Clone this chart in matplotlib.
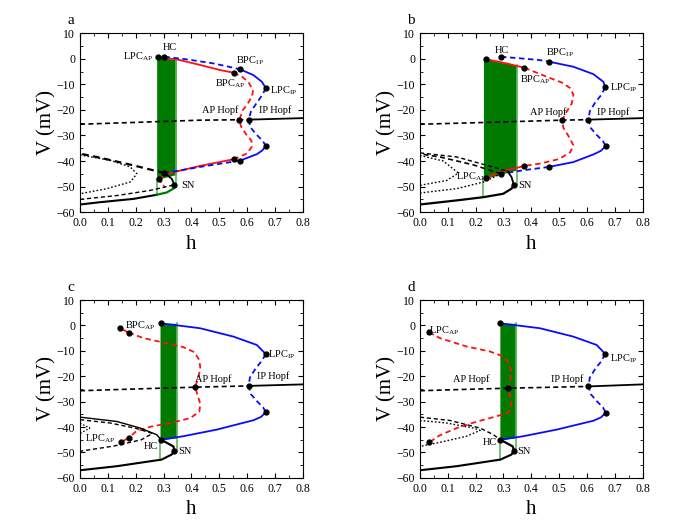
import matplotlib
matplotlib.use("Agg")
import numpy as np
import matplotlib.pyplot as plt
from matplotlib.ticker import MultipleLocator

plt.rcParams["font.family"] = ["Liberation Serif", "DejaVu Serif"]
plt.rcParams["mathtext.fontset"] = "custom"
plt.rcParams["mathtext.rm"] = "Liberation Serif"

RED = "#ff1010"
BLUE = "#0a0aff"
GREEN = "#007a00"
LGREEN = "#5cb85c"

# ---- panel a : (h, V) points ----
a_red_top = [(0.280, 0.6), (0.347, -0.2), (0.431, -2.4), (0.503, -4.4), (0.551, -5.4)]
a_red_mid = [(0.551, -5.4), (0.582, -7.0), (0.605, -9.2), (0.621, -12.2), (0.618, -14.5),
             (0.605, -17.0), (0.585, -20.0), (0.572, -23.8), (0.578, -26.5), (0.596, -29.5),
             (0.615, -32.0), (0.617, -34.3), (0.600, -37.0), (0.551, -39.3)]
a_red_low = [(0.551, -39.3), (0.431, -41.9), (0.311, -45.0), (0.283, -47.2)]
a_red_tail = [(0.283, -47.2), (0.295, -49.0), (0.305, -50.2)]
a_blue_top = [(0.303, 0.84), (0.383, -0.2), (0.479, -1.8), (0.551, -3.5), (0.575, -4.1)]
a_blue_up = [(0.575, -4.1), (0.623, -6.4), (0.653, -9.0), (0.667, -11.5)]
a_blue_mid = [(0.667, -11.5), (0.655, -14.0), (0.636, -17.0), (0.614, -20.5), (0.605, -23.8),
              (0.612, -26.8), (0.632, -29.5), (0.655, -32.0), (0.667, -34.0)]
a_blue_dn = [(0.667, -34.0), (0.655, -35.8), (0.635, -37.3), (0.575, -39.8)]
a_blue_low = [(0.575, -39.8), (0.431, -42.3), (0.303, -44.7)]
a_eq_mid = [(0.0, -25.6), (0.192, -24.9), (0.431, -24.0), (0.605, -23.8)]
a_eq_right = [(0.605, -23.8), (0.8, -23.2)]
a_eq_low = [(0.0, -57.0), (0.072, -56.1), (0.192, -54.8), (0.275, -53.2)]
a_eq_green = [(0.275, -53.2), (0.311, -52.3), (0.335, -50.8), (0.339, -49.3)]
a_eq_sn = [(0.339, -49.3), (0.329, -46.9), (0.303, -44.7)]
a_eq_dash = [(0.303, -44.7), (0.192, -41.7), (0.072, -38.7), (0.0, -37.1)]
a_loop = [(0.0, -37.6), (0.108, -39.7), (0.180, -42.3), (0.204, -45.0), (0.180, -48.2),
          (0.096, -50.8), (0.0, -52.8)]
a_lower_dash = [(0.0, -55.0), (0.132, -53.5), (0.251, -51.5), (0.339, -49.3)]
a_band_h = [0.275, 0.345]
a_band_top = [0.7, -0.3]
a_band_bot = [-47.2, -45.3]
a_dots = [(0.280, 0.6), (0.303, 0.84), (0.551, -5.4), (0.575, -4.1), (0.667, -11.5),
          (0.572, -23.8), (0.605, -23.8), (0.667, -34.0), (0.551, -39.3), (0.575, -39.8),
          (0.303, -44.7), (0.283, -47.2), (0.339, -49.3)]
a_labels = [("HC", 0.323, 4.4), ("LPC$_{\\rm AP}$", 0.208, 0.8), ("BPC$_{\\rm IP}$", 0.61, -0.8),
            ("BPC$_{\\rm AP}$", 0.538, -9.7), ("LPC$_{\\rm IP}$", 0.732, -12.6),
            ("AP Hopf", 0.502, -20.1), ("IP Hopf", 0.70, -20.1), ("SN", 0.386, -49.7)]

# ---- panel b ----
b_red_top = [(0.236, -0.1), (0.311, -1.8), (0.375, -3.5)]
b_red_mid = [(0.375, -3.5), (0.455, -7.0), (0.510, -9.3), (0.540, -11.5), (0.551, -14.0),
             (0.545, -17.5), (0.525, -21.0), (0.511, -24.0), (0.515, -27.0), (0.535, -30.5),
             (0.551, -33.8), (0.540, -36.5), (0.500, -39.2), (0.431, -41.0), (0.375, -41.9)]
b_red_low = [(0.375, -41.9), (0.287, -44.3), (0.236, -46.7)]
b_blue_top = [(0.291, 0.84), (0.359, 0.2), (0.431, -0.5), (0.463, -1.1)]
b_blue_up = [(0.463, -1.1), (0.551, -3.1), (0.623, -6.0), (0.659, -9.0), (0.665, -11.2)]
b_blue_mid = [(0.665, -11.2), (0.652, -14.0), (0.630, -17.0), (0.610, -20.5), (0.605, -23.8),
              (0.613, -27.0), (0.635, -29.8), (0.657, -32.2), (0.667, -34.1)]
b_blue_dn = [(0.667, -34.1), (0.650, -36.0), (0.623, -37.4), (0.551, -40.4), (0.463, -42.3)]
b_blue_low = [(0.463, -42.3), (0.371, -43.6), (0.291, -45.0)]
b_eq_mid = [(0.0, -25.6), (0.2, -25.0), (0.511, -24.0), (0.605, -23.8)]
b_eq_right = [(0.605, -23.8), (0.8, -23.2)]
b_eq_low = [(0.0, -57.0), (0.132, -55.4), (0.230, -54.1), (0.299, -52.8), (0.329, -50.8),
            (0.337, -49.3)]
b_eq_sn = [(0.337, -49.3), (0.329, -46.3), (0.315, -44.0)]
b_eq_dash = [(0.291, -45.0), (0.192, -41.5), (0.072, -38.4), (0.0, -37.2)]
b_dash2 = [(0.0, -36.8), (0.132, -38.4), (0.251, -42.0), (0.315, -44.0)]
b_loop = [(0.0, -37.8), (0.084, -40.0), (0.138, -44.7), (0.096, -47.6), (0.0, -49.5)]
b_lower_dot = [(0.0, -52.5), (0.132, -50.8), (0.228, -48.2), (0.291, -45.0)]
b_band_h = [0.228, 0.347]
b_band_top = [0.0, -2.6]
b_band_bot = [-47.0, -43.5]
b_dots = [(0.236, -0.1), (0.291, 0.84), (0.375, -3.5), (0.463, -1.1), (0.665, -11.2),
          (0.511, -24.0), (0.605, -23.8), (0.667, -34.1), (0.375, -41.9), (0.463, -42.3),
          (0.236, -46.7), (0.291, -45.0), (0.337, -49.3)]
b_labels = [("HC", 0.295, 3.1), ("BPC$_{\\rm IP}$", 0.502, 2.3), ("BPC$_{\\rm AP}$", 0.413, -8.1),
            ("LPC$_{\\rm IP}$", 0.732, -11.2), ("AP Hopf", 0.46, -20.8), ("IP Hopf", 0.693, -20.8),
            ("LPC$_{\\rm AP}$", 0.185, -46.2), ("SN", 0.377, -49.6)]

# ---- panel c ----
c_red_top = [(0.144, -1.1), (0.174, -2.8)]
c_red_mid = [(0.174, -2.8), (0.228, -5.0), (0.311, -7.0), (0.370, -8.5), (0.410, -10.5),
             (0.428, -13.6), (0.432, -17.0), (0.423, -21.0), (0.413, -24.3), (0.422, -27.5),
             (0.432, -31.0), (0.428, -34.0), (0.395, -36.5), (0.320, -38.5), (0.251, -39.9),
             (0.200, -41.8), (0.174, -44.3)]
c_red_low = [(0.174, -44.3), (0.146, -46.0)]
c_blue_top = [(0.291, 0.84), (0.431, -1.1), (0.551, -4.4), (0.635, -7.7), (0.667, -11.3)]
c_blue_mid = [(0.667, -11.3), (0.652, -14.0), (0.630, -17.0), (0.610, -20.5), (0.605, -23.8),
              (0.613, -27.0), (0.635, -29.8), (0.657, -32.2), (0.667, -34.1)]
c_blue_low = [(0.667, -34.1), (0.650, -36.0), (0.623, -37.3), (0.491, -41.0), (0.371, -43.6),
              (0.291, -45.0)]
c_eq_mid = [(0.0, -25.7), (0.2, -25.0), (0.413, -24.3), (0.605, -23.8)]
c_eq_right = [(0.605, -23.8), (0.8, -23.2)]
c_eq_low = [(0.0, -57.0), (0.132, -55.4), (0.293, -52.8), (0.329, -50.8), (0.339, -49.3)]
c_eq_sn = [(0.339, -49.3), (0.335, -47.6), (0.291, -45.0)]
c_eq_up = [(0.0, -36.1), (0.132, -37.8), (0.216, -40.4), (0.275, -43.0), (0.291, -45.0)]
c_loop = [(0.0, -37.1), (0.108, -38.4), (0.200, -40.5), (0.260, -42.5), (0.220, -45.0),
          (0.120, -47.5), (0.0, -49.5)]
c_small = [(0.0, -38.5), (0.035, -40.4), (0.0, -42.5)]
c_band_h = [0.287, 0.347]
c_band_top = [0.84, 0.84]
c_band_bot = [-45.0, -44.2]
c_dots = [(0.144, -1.1), (0.174, -2.8), (0.291, 0.84), (0.667, -11.3), (0.413, -24.3),
          (0.605, -23.8), (0.667, -34.1), (0.146, -46.0), (0.174, -44.3), (0.291, -45.0),
          (0.339, -49.3)]
c_labels = [("BPC$_{\\rm AP}$", 0.216, -0.1), ("LPC$_{\\rm IP}$", 0.725, -11.6),
            ("AP Hopf", 0.479, -21.0), ("IP Hopf", 0.695, -20.1), ("LPC$_{\\rm AP}$", 0.072, -44.7),
            ("HC", 0.255, -47.6), ("SN", 0.377, -49.8)]

# ---- panel d ----
d_red = [(0.032, -2.7), (0.072, -5.0), (0.168, -8.3), (0.250, -10.2), (0.290, -11.8),
         (0.315, -14.0), (0.327, -17.5), (0.325, -21.0), (0.317, -24.7), (0.324, -28.0),
         (0.329, -31.0), (0.317, -34.2), (0.280, -35.6), (0.200, -38.0), (0.132, -40.4),
         (0.070, -43.3), (0.034, -46.0)]
d_blue_top = [(0.289, 0.84), (0.431, -1.1), (0.551, -4.4), (0.635, -7.7), (0.665, -11.2)]
d_blue_mid = [(0.665, -11.2), (0.652, -14.0), (0.630, -17.0), (0.610, -20.5), (0.605, -24.0),
              (0.613, -27.0), (0.635, -29.8), (0.657, -32.2), (0.667, -34.3)]
d_blue_low = [(0.667, -34.3), (0.650, -36.2), (0.623, -37.5), (0.491, -41.0), (0.371, -43.6),
              (0.289, -45.0)]
d_eq_mid = [(0.0, -25.7), (0.15, -25.2), (0.317, -24.7), (0.605, -24.0)]
d_eq_right = [(0.605, -24.0), (0.8, -23.2)]
d_eq_low = [(0.0, -57.0), (0.132, -55.4), (0.289, -52.8), (0.329, -50.8), (0.338, -49.3)]
d_eq_sn = [(0.338, -49.3), (0.333, -47.6), (0.289, -45.0)]
d_eq_up = [(0.0, -36.1), (0.108, -37.4), (0.216, -40.4), (0.264, -43.0), (0.289, -45.0)]
d_loop = [(0.0, -37.4), (0.096, -38.4), (0.192, -40.4), (0.216, -41.3), (0.168, -43.6),
          (0.072, -46.0), (0.0, -47.6)]
d_band_h = [0.287, 0.345]
d_band_top = [0.84, 0.84]
d_band_bot = [-45.0, -44.2]
d_dots = [(0.032, -2.7), (0.289, 0.84), (0.665, -11.2), (0.317, -24.7), (0.605, -24.0),
          (0.667, -34.3), (0.034, -46.0), (0.289, -45.0), (0.338, -49.3)]
d_labels = [("LPC$_{\\rm AP}$", 0.088, -2.0), ("LPC$_{\\rm IP}$", 0.732, -12.9),
            ("AP Hopf", 0.186, -21.0), ("IP Hopf", 0.527, -21.0), ("HC", 0.250, -46.0),
            ("SN", 0.375, -49.8)]


def line(ax, pts, color, ls="-", lw=1.3):
    p = np.array(pts)
    if ls == "--":
        ax.plot(p[:, 0], p[:, 1], color=color, lw=lw, dashes=(3, 2))
    elif ls == ":":
        ax.plot(p[:, 0], p[:, 1], color=color, lw=lw, dashes=(1.2, 1.5))
    else:
        ax.plot(p[:, 0], p[:, 1], color=color, lw=lw)


def band(ax, hs, top, bot, bottom_left, sn):
    ax.fill_between(hs, top, bot, color=GREEN, lw=0, zorder=1)
    ax.plot([hs[0], hs[0]], [bot[0], bottom_left], color=LGREEN, lw=1.2)
    ax.plot([hs[1], hs[1]], [top[1], sn], color=LGREEN, lw=1.2)


def finish(ax, letter, dots, labels):
    p = np.array(dots)
    ax.plot(p[:, 0], p[:, 1], "o", color="black", ms=3.5, zorder=5)
    for txt, x, y in labels:
        ax.text(x, y, txt, fontsize=7.5, ha="center", va="center")
    ax.set_xlim(0, 0.8)
    ax.set_ylim(-60, 10)
    ax.xaxis.set_major_locator(MultipleLocator(0.1))
    ax.xaxis.set_minor_locator(MultipleLocator(0.05))
    ax.yaxis.set_major_locator(MultipleLocator(10))
    ax.yaxis.set_minor_locator(MultipleLocator(5))
    ax.tick_params(which="both", direction="in", top=True, right=True, labelsize=8.5)
    ax.tick_params(which="major", length=3.5)
    ax.tick_params(which="minor", length=2)
    ax.set_xlabel("h", fontsize=15, labelpad=4)
    ax.set_ylabel("V (mV)", fontsize=15, labelpad=0)
    ax.text(-0.04, 1.07, letter, transform=ax.transAxes, fontsize=11, ha="center", va="center")


fig = plt.figure(figsize=(6.73, 5.2), dpi=100)
ax_a = fig.add_axes([0.119, 0.592, 0.331, 0.344])
ax_b = fig.add_axes([0.624, 0.592, 0.331, 0.344])
ax_c = fig.add_axes([0.119, 0.081, 0.331, 0.342])
ax_d = fig.add_axes([0.624, 0.081, 0.331, 0.342])

# a
ax = ax_a
band(ax, a_band_h, a_band_top, a_band_bot, -53.2, -49.3)
line(ax, a_red_top, RED)
line(ax, a_red_mid, RED, "--")
line(ax, a_red_low, RED)
line(ax, a_red_tail, RED, "--", 1.0)
line(ax, a_blue_top, BLUE, "--")
line(ax, a_blue_up, BLUE)
line(ax, a_blue_mid, BLUE, "--")
line(ax, a_blue_dn, BLUE)
line(ax, a_blue_low, BLUE, "--")
line(ax, a_eq_mid, "black", "--", 1.2)
line(ax, a_eq_right, "black")
line(ax, a_eq_low, "black", "-", 1.5)
line(ax, a_eq_green, GREEN, "-", 1.6)
line(ax, a_eq_sn, "black")
line(ax, a_eq_dash, "black", "--", 1.6)
line(ax, a_loop, "black", ":", 1.0)
line(ax, a_lower_dash, "black", "--", 1.0)
finish(ax, "a", a_dots, a_labels)

# b
ax = ax_b
band(ax, b_band_h, b_band_top, b_band_bot, -54.1, -49.3)
line(ax, b_red_top, RED)
line(ax, b_red_mid, RED, "--")
line(ax, b_red_low, RED)
line(ax, b_blue_top, BLUE, "--")
line(ax, b_blue_up, BLUE)
line(ax, b_blue_mid, BLUE, "--")
line(ax, b_blue_dn, BLUE)
line(ax, b_blue_low, BLUE, "--")
line(ax, b_eq_mid, "black", "--", 1.2)
line(ax, b_eq_right, "black")
line(ax, b_eq_low, "black", "-", 1.6)
line(ax, b_eq_sn, "black")
line(ax, b_eq_dash, "black", "--", 1.2)
line(ax, b_dash2, "black", "--", 1.0)
line(ax, b_loop, "black", ":", 1.0)
line(ax, b_lower_dot, "black", ":", 1.0)
finish(ax, "b", b_dots, b_labels)

# c
ax = ax_c
band(ax, c_band_h, c_band_top, c_band_bot, -52.8, -49.3)
line(ax, c_red_top, RED)
line(ax, c_red_mid, RED, "--")
line(ax, c_red_low, RED)
line(ax, c_blue_top, BLUE)
line(ax, c_blue_mid, BLUE, "--")
line(ax, c_blue_low, BLUE)
line(ax, c_eq_mid, "black", "--", 1.2)
line(ax, c_eq_right, "black")
line(ax, c_eq_low, "black", "-", 1.5)
line(ax, c_eq_sn, "black", "-", 1.6)
line(ax, c_eq_up, "black", "-", 1.0)
line(ax, c_loop, "black", "--", 1.0)
line(ax, c_small, "black", ":", 0.9)
finish(ax, "c", c_dots, c_labels)

# d
ax = ax_d
band(ax, d_band_h, d_band_top, d_band_bot, -52.8, -49.3)
line(ax, d_red, RED, "--")
line(ax, d_blue_top, BLUE)
line(ax, d_blue_mid, BLUE, "--")
line(ax, d_blue_low, BLUE)
line(ax, d_eq_mid, "black", "--", 1.2)
line(ax, d_eq_right, "black")
line(ax, d_eq_low, "black", "-", 1.5)
line(ax, d_eq_sn, "black", "-", 1.6)
line(ax, d_eq_up, "black", "--", 1.0)
line(ax, d_loop, "black", ":", 1.0)
finish(ax, "d", d_dots, d_labels)

fig.savefig("out.png", dpi=100)
